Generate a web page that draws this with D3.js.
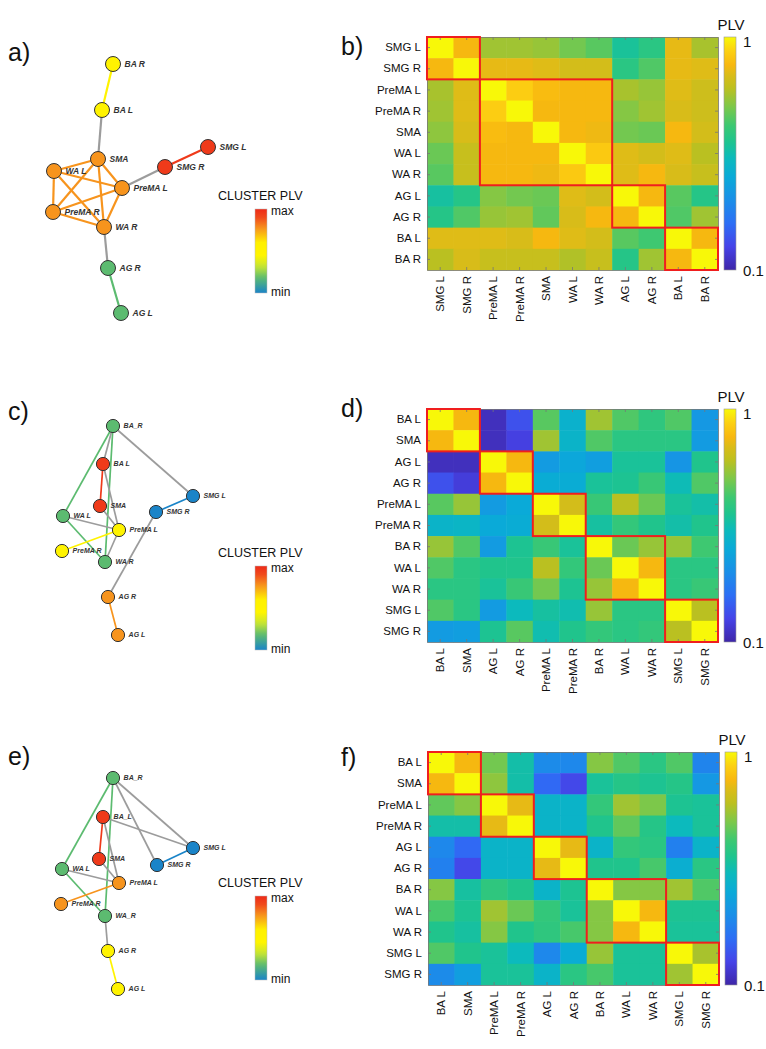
<!DOCTYPE html>
<html>
<head>
<meta charset="utf-8">
<title>Cluster PLV networks and matrices</title>
<script src="https://cdn.jsdelivr.net/npm/d3@7"></script>
<style>
  body { margin: 0; background: #fff; }
  svg text { font-family: "Liberation Sans", Arial, sans-serif; }
  .node-label { font-weight: bold; font-style: italic; fill: #333; }
  .axis path, .axis line { stroke: #777; stroke-width: 0.8; }
  .axis text { font-size: 11.5px; fill: #111; }
</style>
</head>
<body>
<svg id="fig" width="766" height="1049"></svg>
<script>
// ---------- data: heatmaps ----------
var labelsB = ["SMG L", "SMG R", "PreMA L", "PreMA R", "SMA", "WA L", "WA R", "AG L", "AG R", "BA L", "BA R"];
var valuesB = [
  [1.00, 0.89, 0.77, 0.77, 0.76, 0.72, 0.69, 0.58, 0.62, 0.87, 0.78],
  [0.89, 1.00, 0.87, 0.87, 0.86, 0.84, 0.84, 0.62, 0.68, 0.87, 0.86],
  [0.78, 0.86, 1.00, 0.94, 0.90, 0.89, 0.89, 0.78, 0.76, 0.86, 0.83],
  [0.77, 0.86, 0.94, 1.00, 0.89, 0.89, 0.89, 0.74, 0.77, 0.85, 0.83],
  [0.75, 0.85, 0.90, 0.89, 1.00, 0.89, 0.88, 0.72, 0.71, 0.89, 0.84],
  [0.71, 0.82, 0.89, 0.89, 0.89, 1.00, 0.93, 0.86, 0.84, 0.86, 0.80],
  [0.69, 0.82, 0.89, 0.89, 0.88, 0.93, 1.00, 0.86, 0.89, 0.85, 0.82],
  [0.57, 0.61, 0.74, 0.72, 0.71, 0.86, 0.84, 1.00, 0.89, 0.69, 0.61],
  [0.61, 0.68, 0.76, 0.77, 0.70, 0.85, 0.89, 0.89, 1.00, 0.68, 0.77],
  [0.86, 0.86, 0.86, 0.85, 0.89, 0.86, 0.84, 0.69, 0.66, 1.00, 0.89],
  [0.80, 0.85, 0.82, 0.82, 0.82, 0.79, 0.82, 0.61, 0.77, 0.89, 1.00]
];
var boxesB = [[0, 1], [2, 6], [7, 8], [9, 10]];

var labelsD = ["BA L", "SMA", "AG L", "AG R", "PreMA L", "PreMA R", "BA R", "WA L", "WA R", "SMG L", "SMG R"];
var valuesD = [
  [1.00, 0.89, 0.13, 0.22, 0.69, 0.49, 0.77, 0.68, 0.63, 0.68, 0.40],
  [0.89, 1.00, 0.13, 0.18, 0.77, 0.50, 0.68, 0.62, 0.62, 0.62, 0.41],
  [0.13, 0.13, 1.00, 0.89, 0.41, 0.45, 0.42, 0.58, 0.58, 0.39, 0.60],
  [0.22, 0.17, 0.89, 1.00, 0.47, 0.47, 0.58, 0.59, 0.65, 0.54, 0.68],
  [0.69, 0.76, 0.41, 0.46, 1.00, 0.84, 0.65, 0.80, 0.71, 0.58, 0.56],
  [0.50, 0.51, 0.46, 0.47, 0.84, 1.00, 0.57, 0.64, 0.60, 0.56, 0.60],
  [0.76, 0.68, 0.41, 0.59, 0.65, 0.58, 1.00, 0.71, 0.76, 0.76, 0.66],
  [0.68, 0.62, 0.60, 0.60, 0.80, 0.64, 0.71, 1.00, 0.89, 0.62, 0.62],
  [0.62, 0.62, 0.58, 0.65, 0.72, 0.59, 0.76, 0.89, 1.00, 0.62, 0.65],
  [0.68, 0.62, 0.41, 0.53, 0.57, 0.55, 0.76, 0.62, 0.62, 1.00, 0.80],
  [0.41, 0.42, 0.59, 0.69, 0.55, 0.60, 0.64, 0.62, 0.64, 0.80, 1.00]
];
var boxesD = [[0, 1], [2, 3], [4, 5], [6, 8], [9, 10]];

var labelsF = ["BA L", "SMA", "PreMA L", "PreMA R", "AG L", "AG R", "BA R", "WA L", "WA R", "SMG L", "SMG R"];
var valuesF = [
  [1.00, 0.89, 0.72, 0.56, 0.36, 0.35, 0.74, 0.68, 0.62, 0.68, 0.34],
  [0.89, 1.00, 0.75, 0.56, 0.27, 0.20, 0.58, 0.61, 0.59, 0.61, 0.40],
  [0.70, 0.74, 1.00, 0.87, 0.50, 0.50, 0.64, 0.77, 0.73, 0.59, 0.58],
  [0.56, 0.56, 0.87, 1.00, 0.50, 0.50, 0.60, 0.70, 0.61, 0.53, 0.58],
  [0.35, 0.27, 0.50, 0.50, 1.00, 0.87, 0.50, 0.64, 0.62, 0.33, 0.50],
  [0.33, 0.20, 0.50, 0.50, 0.87, 1.00, 0.60, 0.60, 0.67, 0.48, 0.62],
  [0.74, 0.57, 0.63, 0.60, 0.50, 0.59, 1.00, 0.74, 0.74, 0.77, 0.68],
  [0.67, 0.59, 0.77, 0.71, 0.64, 0.58, 0.74, 1.00, 0.89, 0.59, 0.59],
  [0.60, 0.57, 0.74, 0.60, 0.63, 0.67, 0.74, 0.89, 1.00, 0.58, 0.58],
  [0.68, 0.60, 0.58, 0.53, 0.35, 0.47, 0.76, 0.58, 0.58, 1.00, 0.78],
  [0.36, 0.42, 0.58, 0.58, 0.50, 0.62, 0.67, 0.58, 0.58, 0.77, 1.00]
];
var boxesF = [[0, 1], [2, 3], [4, 5], [6, 8], [9, 10]];

var plvTicks = ["0.1", "1"];

// ---------- data: networks (layout units) ----------
var nodesA = ["BA R", "BA L", "SMG L", "SMA", "SMG R", "WA L", "PreMA L", "PreMA R", "WA R", "AG R", "AG L"];
var layoutAx = [113, 102, 208, 98, 165, 54, 122, 53, 104, 108, 121];
var layoutAy = [64, 110, 147, 159, 167, 171, 188, 212, 227, 268, 313];
var clustersA = [
  { level: 0.95, members: ["SMG L", "SMG R"] },
  { level: 0.77, members: ["PreMA L", "PreMA R", "SMA", "WA L", "WA R"] },
  { level: 0.18, members: ["AG L", "AG R"] },
  { level: 0.50, members: ["BA L", "BA R"] }
];
var edgesA = [
  ["BA R", "BA L"], ["BA L", "SMA"], ["SMG L", "SMG R"], ["SMG R", "PreMA L"],
  ["WA R", "AG R"], ["AG R", "AG L"],
  ["SMA", "WA L"], ["SMA", "PreMA L"], ["SMA", "PreMA R"], ["SMA", "WA R"],
  ["WA L", "PreMA L"], ["WA L", "PreMA R"], ["WA L", "WA R"],
  ["PreMA L", "PreMA R"], ["PreMA L", "WA R"], ["PreMA R", "WA R"]
];

var nodesC = ["BA_R", "BA L", "SMG L", "SMA", "SMG R", "WA L", "PreMA L", "PreMA R", "WA R", "AG R", "AG L"];
var layoutCx = [113, 103, 193, 100, 156, 63, 119, 62, 105, 108, 118];
var layoutCy = [76, 114, 146, 156, 162, 166, 180, 201, 212, 247, 285];
var clustersC = [
  { level: 0.95, members: ["BA L", "SMA"] },
  { level: 0.77, members: ["AG L", "AG R"] },
  { level: 0.50, members: ["PreMA L", "PreMA R"] },
  { level: 0.18, members: ["BA_R", "WA L", "WA R"] },
  { level: 0.00, members: ["SMG L", "SMG R"] }
];
var edgesC = [
  ["BA_R", "WA L"], ["BA_R", "WA R"], ["BA_R", "SMG L"], ["BA_R", "BA L"],
  ["BA L", "SMA"], ["BA L", "PreMA L"], ["SMA", "PreMA L"], ["WA L", "PreMA L"],
  ["WA L", "WA R"], ["PreMA L", "PreMA R"], ["PreMA L", "WA R"],
  ["SMG L", "SMG R"], ["SMG R", "AG R"], ["AG R", "AG L"]
];

var nodesE = ["BA_R", "BA_L", "SMG L", "SMA", "SMG R", "WA L", "PreMA L", "PreMA R", "WA_R", "AG R", "AG L"];
var layoutEx = [113, 103, 193, 99, 157, 62, 119, 61, 105, 108, 118];
var layoutEy = [78, 117, 148, 159, 165, 169, 183, 204, 216, 251, 289];
var clustersE = [
  { level: 0.95, members: ["BA_L", "SMA"] },
  { level: 0.50, members: ["AG L", "AG R"] },
  { level: 0.77, members: ["PreMA L", "PreMA R"] },
  { level: 0.18, members: ["BA_R", "WA L", "WA_R"] },
  { level: 0.00, members: ["SMG L", "SMG R"] }
];
var edgesE = [
  ["BA_R", "WA L"], ["BA_R", "WA_R"], ["BA_R", "SMG L"], ["BA_R", "SMG R"],
  ["BA_L", "SMG L"], ["BA_L", "SMA"], ["BA_L", "PreMA L"], ["SMA", "PreMA L"],
  ["WA L", "PreMA L"], ["WA L", "WA_R"], ["PreMA L", "PreMA R"],
  ["SMG L", "SMG R"], ["WA_R", "AG R"], ["AG R", "AG L"]
];

// ---------- colour scales ----------
var parulaStops = [0, 0.10, 0.20, 0.30, 0.40, 0.48, 0.55, 0.62, 0.70, 0.78, 0.84, 0.88, 0.94, 1];
var parulaColors = ["#3e26a8", "#4643e8", "#2d6ef5", "#1a8fe8", "#0aaad8", "#0cbabc", "#1ec48e",
                    "#3cc872", "#7cc84a", "#bcc020", "#dcbc18", "#f8b810", "#fcd012", "#f8f808"];
var parula = d3.scaleLinear().domain(parulaStops).range(parulaColors).interpolate(d3.interpolateRgb).clamp(true);
var plvScale = d3.scaleLinear().domain([0.1, 1]).range([0, 1]);
function plvColor(v) { return parula(plvScale(v)); }

var clusterStops = [0, 0.18, 0.32, 0.45, 0.6, 0.77, 0.9, 1];
var clusterColors = ["#1a84c8", "#5cbb70", "#c8e632", "#fff500", "#fff000", "#f7941d", "#f04a1c", "#ee2a18"];
var clusterColor = d3.scaleLinear().domain(clusterStops).range(clusterColors).interpolate(d3.interpolateRgb);

var svg = d3.select("#fig");
var defs = svg.append("defs");

// ---------- heatmaps ----------
function drawHeatmap(labels, values, boxes, left, top, gradId) {
  var w = 291, h = 233;
  var g = svg.append("g").attr("transform", "translate(" + left + "," + top + ")");
  var x = d3.scaleBand().domain(labels).range([0, w]);
  var y = d3.scaleBand().domain(labels).range([0, h]);

  var cells = [];
  values.forEach(function(row, i) {
    row.forEach(function(v, j) { cells.push({ r: labels[i], c: labels[j], v: v }); });
  });
  g.selectAll("rect.cell").data(cells).enter().append("rect")
    .attr("class", "cell")
    .attr("x", function(d) { return x(d.c); })
    .attr("y", function(d) { return y(d.r); })
    .attr("width", x.bandwidth() + 0.5)
    .attr("height", y.bandwidth() + 0.5)
    .attr("fill", function(d) { return plvColor(d.v); });

  var left_ = g.append("g").attr("class", "axis")
    .call(d3.axisLeft(y).tickSize(-3).tickSizeOuter(0).tickPadding(6));
  g.append("g").attr("class", "axis").attr("transform", "translate(" + w + ",0)")
    .call(d3.axisRight(y).tickSize(-3).tickSizeOuter(0).tickFormat(""));
  g.append("g").attr("class", "axis")
    .call(d3.axisTop(x).tickSize(-3).tickSizeOuter(0).tickFormat(""));
  var bottom = g.append("g").attr("class", "axis").attr("transform", "translate(0," + h + ")")
    .call(d3.axisBottom(x).tickSize(-3).tickSizeOuter(0));
  bottom.selectAll("text")
    .attr("transform", "rotate(-90)")
    .attr("text-anchor", "end")
    .attr("x", -6).attr("y", 0).attr("dy", "0.35em");
  left_.selectAll("text").attr("text-anchor", "end");

  // cluster boxes
  g.selectAll("rect.box").data(boxes).enter().append("rect")
    .attr("class", "box")
    .attr("x", function(d) { return x(labels[d[0]]); })
    .attr("y", function(d) { return y(labels[d[0]]); })
    .attr("width", function(d) { return x(labels[d[1]]) + x.bandwidth() - x(labels[d[0]]); })
    .attr("height", function(d) { return y(labels[d[1]]) + y.bandwidth() - y(labels[d[0]]); })
    .attr("fill", "none").attr("stroke", "#f01e1e").attr("stroke-width", 2);

  // colorbar
  var grad = defs.append("linearGradient").attr("id", gradId)
    .attr("x1", 0).attr("y1", 1).attr("x2", 0).attr("y2", 0);
  d3.range(0, 1.0001, 0.02).forEach(function(t) {
    grad.append("stop").attr("offset", t).attr("stop-color", parula(t));
  });
  var cb = g.append("g").attr("transform", "translate(" + (w + 6) + ",0)");
  cb.append("rect").attr("width", 12).attr("height", h)
    .attr("fill", "url(#" + gradId + ")").attr("stroke", "#999").attr("stroke-width", 0.6);
  var cbScale = d3.scaleLinear().domain([0.1, 1]).range([h, 0]);
  cb.selectAll("text.tick").data(plvTicks).enter().append("text")
    .attr("x", 19)
    .attr("y", function(d) { return cbScale(+d) + (+d === 1 ? 10 : 6); })
    .style("font-size", "15px").attr("fill", "#111")
    .text(function(d) { return d; });
  cb.append("text").attr("x", 7).attr("y", -7).attr("text-anchor", "middle")
    .style("font-size", "15px").attr("fill", "#111").text("PLV");
}

drawHeatmap(labelsB, valuesB, boxesB, 427, 37, "gB");
drawHeatmap(labelsD, valuesD, boxesD, 427, 409, "gD");
drawHeatmap(labelsF, valuesF, boxesF, 428, 752, "gF");

// ---------- networks ----------
function drawNetwork(names, lx, ly, clusters, edges, offY, r, fontSize, edgeW) {
  var sx = d3.scaleLinear().domain([0, 300]).range([0, 300]);
  var sy = d3.scaleLinear().domain([0, 350]).range([offY, offY + 350]);
  var nodes = names.map(function(n, i) {
    var cl = clusters.find(function(c) { return c.members.indexOf(n) >= 0; });
    return { name: n, x: sx(lx[i]), y: sy(ly[i]), cluster: cl };
  });
  var byName = {};
  nodes.forEach(function(n) { byName[n.name] = n; });
  var g = svg.append("g");
  g.selectAll("line").data(edges).enter().append("line")
    .attr("x1", function(d) { return byName[d[0]].x; })
    .attr("y1", function(d) { return byName[d[0]].y; })
    .attr("x2", function(d) { return byName[d[1]].x; })
    .attr("y2", function(d) { return byName[d[1]].y; })
    .attr("stroke", function(d) {
      var a = byName[d[0]].cluster, b = byName[d[1]].cluster;
      return a === b ? clusterColor(a.level) : "#9c9c9c";
    })
    .attr("stroke-width", edgeW);
  g.selectAll("circle").data(nodes).enter().append("circle")
    .attr("cx", function(d) { return d.x; })
    .attr("cy", function(d) { return d.y; })
    .attr("r", r)
    .attr("fill", function(d) { return clusterColor(d.cluster.level); })
    .attr("stroke", "#333").attr("stroke-width", 1);
  g.selectAll("text").data(nodes).enter().append("text")
    .attr("class", "node-label")
    .attr("x", function(d) { return d.x + r + 4; })
    .attr("y", function(d) { return d.y; })
    .attr("dy", "0.35em")
    .style("font-size", fontSize + "px")
    .text(function(d) { return d.name; });
}

drawNetwork(nodesA, layoutAx, layoutAy, clustersA, edgesA, 0, 7.5, 8.5, 2.2);
drawNetwork(nodesC, layoutCx, layoutCy, clustersC, edgesC, 350, 6.6, 7, 1.7);
drawNetwork(nodesE, layoutEx, layoutEy, clustersE, edgesE, 700, 6.6, 7, 1.7);

// ---------- cluster legends ----------
var legGrad = defs.append("linearGradient").attr("id", "legGrad")
  .attr("x1", 0).attr("y1", 1).attr("x2", 0).attr("y2", 0);
d3.range(0, 1.0001, 0.05).forEach(function(t) {
  legGrad.append("stop").attr("offset", t).attr("stop-color", clusterColor(t));
});
[{ title: 200, top: 209 }, { title: 557, top: 566 }, { title: 887, top: 896 }].forEach(function(p) {
  var lg = svg.append("g");
  lg.append("text").attr("x", 218).attr("y", p.title).style("font-size", "12.5px").attr("fill", "#111")
    .text("CLUSTER PLV");
  lg.append("rect").attr("x", 255).attr("y", p.top).attr("width", 12).attr("height", 84)
    .attr("fill", "url(#legGrad)").attr("stroke", "#bbb").attr("stroke-width", 0.5);
  lg.append("text").attr("x", 271).attr("y", p.top + 6).style("font-size", "12px").attr("fill", "#111").text("max");
  lg.append("text").attr("x", 271).attr("y", p.top + 87).style("font-size", "12px").attr("fill", "#111").text("min");
});

// ---------- panel letters ----------
var letters = [["a)", 8, 61], ["b)", 341, 55], ["c)", 8, 420], ["d)", 341, 417], ["e)", 8, 765], ["f)", 341, 766]];
svg.selectAll("text.letter").data(letters).enter().append("text")
  .attr("class", "letter")
  .attr("x", function(d) { return d[1]; })
  .attr("y", function(d) { return d[2]; })
  .style("font-size", "25px").attr("fill", "#111")
  .text(function(d) { return d[0]; });
</script>
</body>
</html>
